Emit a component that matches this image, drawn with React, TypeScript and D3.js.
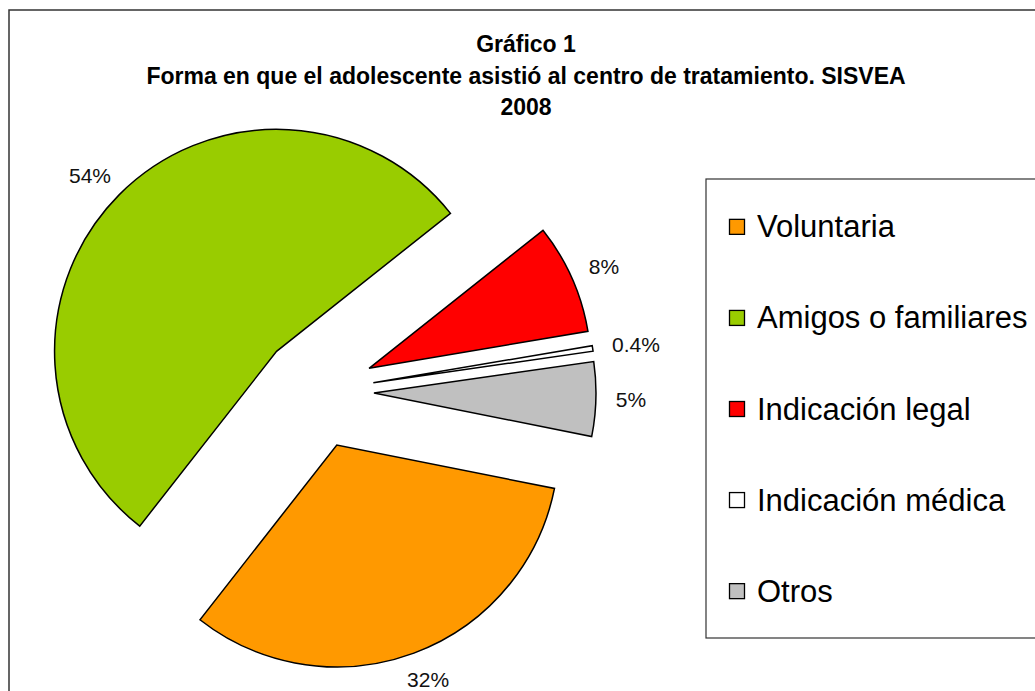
import React from 'react'
import * as d3 from 'd3'

// chart data
const categories = ['Voluntaria', 'Amigos o familiares', 'Indicación legal', 'Indicación médica', 'Otros']
const percentages = [32.4, 53.7, 8.0, 0.4, 5.4]
const sliceColors = ['#FF9900', '#99CC00', '#FF0000', '#FFFFFF', '#C0C0C0']
const titleLines = ['Gráfico 1', 'Forma en que el adolescente asistió al centro de tratamiento. SISVEA', '2008']

const width = 1035
const height = 691
const font = '"Liberation Sans", Arial, Helvetica, sans-serif'

// pie settings
const center = { x: 317, y: 391.5 }
const radius = 222
const explode = 57
const firstAngle = (101.3 * Math.PI) / 180
const labelGap = 20
const labelSize = 21

// legend box
const legendBox = { x: 706, y: 179, w: 360, h: 459 }

const fmtPct = (v: number) => (v < 1 ? d3.format('.1f')(v) : d3.format('.0f')(v)) + '%'

// rough width of a label in Arial metrics
const textWidth = (s: string, size: number) =>
  s.split('').reduce((acc, ch) => acc + (ch === '%' ? 0.889 : ch === '.' ? 0.278 : 0.556), 0) * size

const App = () => {
  const pie = d3
    .pie<number>()
    .sort(null)
    .value(d => d)
    .startAngle(firstAngle)
    .endAngle(firstAngle + 2 * Math.PI)
  const arcs = pie(percentages)
  const arc = d3.arc<d3.PieArcDatum<number>>().innerRadius(0).outerRadius(radius)

  const legendY = d3.scalePoint<string>().domain(categories).range([legendBox.y, legendBox.y + legendBox.h]).padding(0.52)

  return (
    <svg
      width={width}
      height={height}
      style={{ position: 'absolute', left: 0, top: 0, background: '#fff' }}
      fontFamily={font}
    >
      <rect x={9} y={10} width={width + 20} height={height + 20} fill="#fff" stroke="#333" strokeWidth={1.5} />

      {titleLines.map((t, i) => (
        <text key={i} x={526} y={52 + i * 31.5} textAnchor="middle" fontWeight="bold" fontSize={23} fill="#000">
          {t}
        </text>
      ))}

      {arcs.map((a, i) => {
        const mid = (a.startAngle + a.endAngle) / 2
        const dx = Math.sin(mid)
        const dy = -Math.cos(mid)
        const ox = center.x + dx * explode
        const oy = center.y + dy * explode
        const label = fmtPct(percentages[i])
        const hw = textWidth(label, labelSize) / 2
        const hh = labelSize * 0.38
        const lx = ox + dx * (radius + labelGap + hw)
        const ly = oy + dy * (radius + labelGap + hh)
        return (
          <g key={categories[i]}>
            <path
              d={arc(a) || ''}
              transform={`translate(${ox},${oy})`}
              fill={sliceColors[i]}
              stroke="#000"
              strokeWidth={1.5}
              strokeLinejoin="miter"
            />
            <text x={lx} y={ly} textAnchor="middle" dominantBaseline="central" fontSize={labelSize} fill="#111">
              {label}
            </text>
          </g>
        )
      })}

      <rect
        x={legendBox.x}
        y={legendBox.y}
        width={legendBox.w}
        height={legendBox.h}
        fill="#fff"
        stroke="#333"
        strokeWidth={1.2}
      />
      {categories.map((c, i) => {
        const cy = legendY(c) || 0
        return (
          <g key={c}>
            <rect x={729.5} y={cy - 7} width={15} height={15} fill={sliceColors[i]} stroke="#000" strokeWidth={1.3} />
            <text x={757} y={cy + 11} fontSize={31} fill="#000">
              {c}
            </text>
          </g>
        )
      })}
    </svg>
  )
}

export default App
